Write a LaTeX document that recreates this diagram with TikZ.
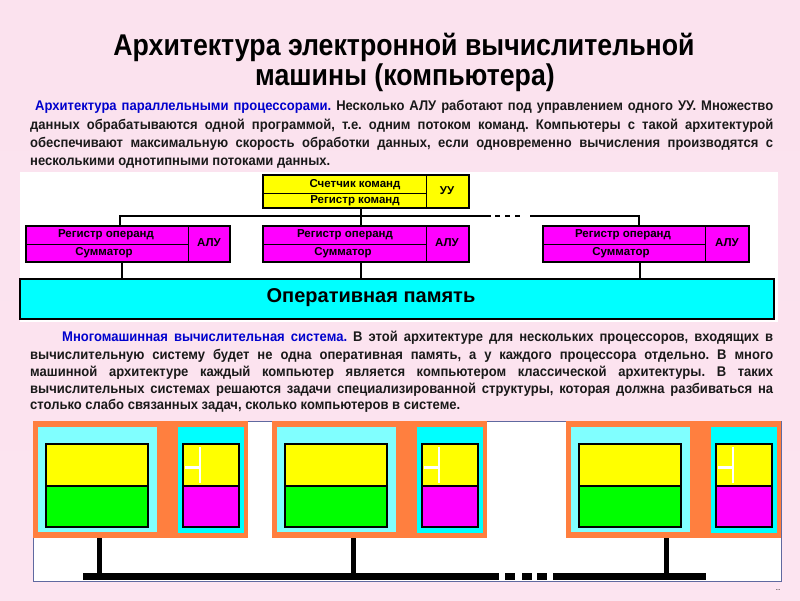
\documentclass[tikz,border=0pt]{standalone}
\usepackage{fontspec}
\setmainfont{Liberation Sans}
\newfontfamily\nar{Liberation Sans}[FakeStretch=0.93]
\newfontfamily\tnar{Liberation Sans}[FakeStretch=0.89]
\newfontfamily\arl{Liberation Sans}
\definecolor{bgtop}{RGB}{251,226,238}
\definecolor{bgmid}{RGB}{250,232,214}
\definecolor{bgbot}{RGB}{252,228,240}
\definecolor{txtblue}{RGB}{0,0,205}
\definecolor{orng}{RGB}{255,127,63}
\definecolor{lcyan}{RGB}{128,255,255}
\definecolor{framec}{RGB}{95,105,160}
\definecolor{cyx}{RGB}{0,255,255}
\definecolor{mgx}{RGB}{255,0,255}
\definecolor{ylx}{RGB}{255,255,0}
\definecolor{gnx}{RGB}{0,255,0}
\frenchspacing
\begin{document}
\begin{tikzpicture}[x=1pt,y=-1pt,
  title/.style={font=\tnar\bfseries\fontsize{30}{34}\selectfont, inner sep=0pt, anchor=base},
  para/.style={font=\nar\bfseries\fontsize{14}{16}\selectfont, inner sep=0pt, anchor=base west, text=black!90},
  box/.style={draw=black, line width=2pt, minimum width=206pt, minimum height=35pt, inner sep=0pt},
  thin/.style={draw=black, line width=0.8pt},
  conn/.style={draw=black, line width=2.2pt},
  lbl/.style={font=\arl\bfseries\fontsize{11.5}{13}\selectfont, inner sep=0pt},
  ramlbl/.style={font=\arl\bfseries\fontsize{20}{22}\selectfont, inner sep=0pt},
  blk/.style={draw=black, line width=2pt}
]
\useasboundingbox (0,0) rectangle (800,600);
\shade[top color=bgtop, middle color=bgmid, bottom color=bgbot] (0,0) rectangle (800,600);

% title
\node[title] (t1) at (404,55) {Архитектура электронной вычислительной};
\node[title] (t2) at (405,85) {машины (компьютера)};

% paragraph 1
\node[para] (p11) at (35,110) {\makebox[738pt][s]{\textcolor{txtblue}{Архитектура параллельными процессорами.} Несколько АЛУ работают под управлением одного УУ. Множество}};
\node[para] (p12) at (30,129) {\makebox[743pt][s]{данных обрабатываются одной программой, т.е. одним потоком команд. Компьютеры с такой архитектурой}};
\node[para] (p13) at (30,147) {\makebox[743pt][s]{обеспечивают максимальную скорость обработки данных, если одновременно вычисления производятся с}};
\node[para] (p14) at (30,165) {несколькими однотипными потоками данных.};

% top diagram panel
\fill[white] (20,172) rectangle (778,322);

\node[box, fill=ylx, minimum height=33pt] (cu) at (366,191.5) {};
\node[box, fill=mgx, minimum width=204pt, minimum height=36pt] (alu1) at (128,244) {};
\node[box, fill=mgx, minimum height=36pt] (alu2) at (366,244) {};
\node[box, fill=mgx, minimum height=36pt] (alu3) at (646,244) {};
\node[box, fill=cyx, minimum width=754pt, minimum height=40pt] (ram) at (397,299) {};

% inner dividers
\draw[thin] (426,175) -- (426,208);
\draw[thin] (263,193) -- (426,193);
\draw[thin] (188,226) -- (188,262);
\draw[thin] (26,244) -- (188,244);
\draw[thin] (426,226) -- (426,262);
\draw[thin] (263,244) -- (426,244);
\draw[thin] (705,226) -- (705,262);
\draw[thin] (543,244) -- (705,244);

% labels
\node[lbl] (c1) at (355,185) {Счетчик команд};
\node[lbl] (c2) at (355,201) {Регистр команд};
\node[lbl] (c3) at (447,191) {УУ};
\node[lbl] (a1r) at (106,235) {Регистр операнд};
\node[lbl] (a1s) at (104,252.5) {Сумматор};
\node[lbl] (a1a) at (209,243) {АЛУ};
\node[lbl] (a2r) at (345,235) {Регистр операнд};
\node[lbl] (a2s) at (343,252.5) {Сумматор};
\node[lbl] (a2a) at (447,243) {АЛУ};
\node[lbl] (a3r) at (623,235) {Регистр операнд};
\node[lbl] (a3s) at (621,252.5) {Сумматор};
\node[lbl] (a3a) at (727,243) {АЛУ};
\node[ramlbl] (ramt) at (371,298) {Оперативная память};

% connectors
\coordinate (busL) at (120,216);
\coordinate (gapA) at (491,216);
\coordinate (dotA) at (495,216);
\coordinate (dotB) at (520,216);
\coordinate (gapB) at (530,216);
\coordinate (busR) at (639,216);
\coordinate (midX) at (361,216);
\draw[conn] (busL |- alu1.north) -- (busL) -- (gapA);
\draw[conn, dash pattern=on 5pt off 5pt] (dotA) -- (dotB);
\draw[conn] (gapB) -- (busR) -- (busR |- alu3.north);
\draw[conn] (cu.south -| midX) -- (alu2.north -| midX);
\coordinate (d1) at (122,0);
\coordinate (d3) at (640,0);
\draw[conn] (alu1.south -| d1) -- (ram.north -| d1);
\draw[conn] (alu2.south -| midX) -- (ram.north -| midX);
\draw[conn] (alu3.south -| d3) -- (ram.north -| d3);

% paragraph 2
\node[para] (p21) at (62,341) {\makebox[711pt][s]{\textcolor{txtblue}{Многомашинная вычислительная система.} В этой архитектуре для нескольких процессоров, входящих в}};
\node[para] (p22) at (30,359) {\makebox[743pt][s]{вычислительную систему будет не одна оперативная память, а у каждого процессора отдельно. В много}};
\node[para] (p23) at (30,376) {\makebox[743pt][s]{машинной архитектуре каждый компьютер является компьютером классической архитектуры. В таких}};
\node[para] (p24) at (30,393) {\makebox[743pt][s]{вычислительных системах решаются задачи специализированной структуры, которая должна разбиваться на}};
\node[para] (p25) at (30,409) {столько слабо связанных задач, сколько компьютеров в системе.};

% bottom panel
\filldraw[fill=white, draw=framec, line width=0.8pt] (33,421) rectangle (781,581);
\foreach \L/\S in {33/99, 272/353, 566/666}{
  \fill[orng] (\L,421) rectangle ({\L+215},538);
  \fill[lcyan] ({\L+5},427) rectangle ({\L+124},532);
  \filldraw[fill=ylx, blk] ({\L+13},444) rectangle ({\L+115},486);
  \filldraw[fill=gnx, blk] ({\L+13},486) rectangle ({\L+115},527);
  \fill[cyx] ({\L+145},427) rectangle ({\L+211},533);
  \filldraw[fill=ylx, blk] ({\L+150},444) rectangle ({\L+206},486);
  \filldraw[fill=mgx, blk] ({\L+150},486) rectangle ({\L+206},527);
  \draw[white, line width=2.5pt] ({\L+167},447) -- ({\L+167},483);
  \draw[white, line width=3pt] ({\L+152},467) -- ({\L+167},467);
  \fill[black] ({\S-2.5},538) rectangle ({\S+2.5},574);
}
\fill[black] (83,573) rectangle (499,580);
\fill[black] (505,573) rectangle (515,580);
\fill[black] (522,573) rectangle (532,580);
\fill[black] (537,573) rectangle (547,580);
\fill[black] (553,573) rectangle (706,580);

\node[font=\arl\fontsize{8}{9}\selectfont, inner sep=0pt] (pg) at (778,590) {..};
\end{tikzpicture}
\end{document}
